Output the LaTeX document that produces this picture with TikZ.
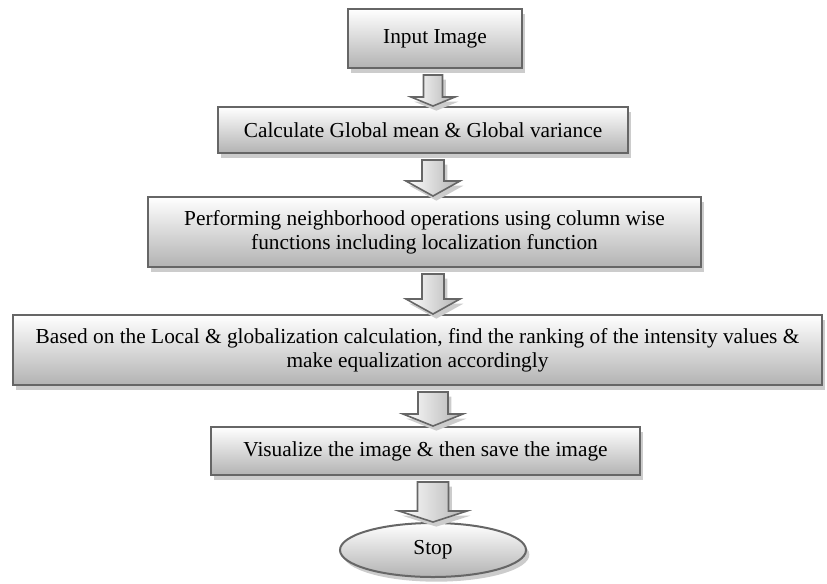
\documentclass[tikz,border=0pt]{standalone}
\usepackage{fontspec}
\setmainfont{Liberation Serif}
\usetikzlibrary{shapes.geometric,shadows,calc}
\tikzset{
	boxshadow/.style={general shadow={shadow xshift=2.5pt,shadow yshift=-3.5pt,fill=gray!40}},
	stepbox/.style={rectangle,draw=black!60,line width=1.5pt,top color=white,bottom color=gray!60,align=center,inner sep=0pt,font=\fontsize{16}{18}\selectfont,boxshadow},
	stopbox/.style={stepbox,ellipse},
	flowarr/.style={draw=black!60,line width=1.2pt,left color=white,right color=gray!60,boxshadow}
}
\newcommand{\flowarrow}[5]{%
	\draw[flowarr] ($(#1.south -| ax)+(-#3,6)$) -- ($(#2.north -| ax)+(-#3,-#5)$) -- ($(#2.north -| ax)+(-#4,-#5)$) -- (#2.north -| ax) -- ($(#2.north -| ax)+(#4,-#5)$) -- ($(#2.north -| ax)+(#3,-#5)$) -- ($(#1.south -| ax)+(#3,6)$) -- cycle;}
\begin{document}
\begin{tikzpicture}[x=0.75pt,y=-0.75pt]
	\useasboundingbox (0,0) rectangle (827,583);
	\coordinate (ax) at (433,0);
	
	\node[stepbox,minimum width=130.5pt,minimum height=44.25pt] (input) at (435,38.5){Input Image};
	
	\node[stepbox,minimum width=307.5pt,minimum height=34.5pt] (global) at (423,130){Calculate Global mean \& Global variance};
	
	\node[stepbox,minimum width=414.75pt,minimum height=52.5pt] (neigh) at (424.5,232){Performing neighborhood operations using column wise\\functions including localization function};
	
	\node[stepbox,minimum width=606.75pt,minimum height=52.5pt] (rank) at (417.5,350){Based on the Local \& globalization calculation, find the ranking of the intensity values \&\\make equalization accordingly};
	
	\node[stepbox,minimum width=321.75pt,minimum height=36pt] (save) at (425.5,451){Visualize the image \& then save the image};
	
	\node[stopbox,minimum width=139.5pt,minimum height=40.5pt] (stop) at (433,550){Stop};
	
	\flowarrow{input}{global}{9.5}{22}{9}
	\flowarrow{global}{neigh}{11}{27}{15}
	\flowarrow{neigh}{rank}{11}{27}{15}
	\flowarrow{rank}{save}{15}{30}{12}
	\flowarrow{save}{stop}{15.5}{34}{11}
\end{tikzpicture}
\end{document}
